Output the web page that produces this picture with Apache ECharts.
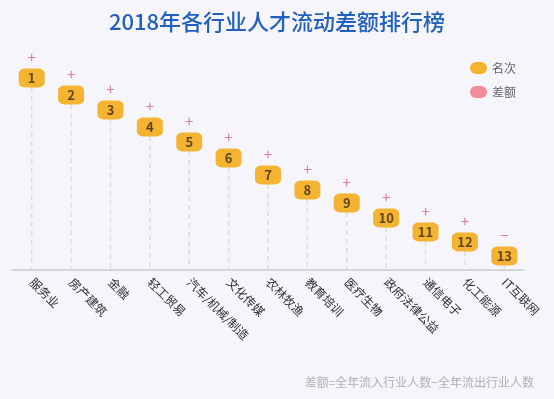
<!DOCTYPE html>
<html>
<head>
<meta charset="utf-8">
<script src="https://cdn.jsdelivr.net/npm/echarts@6/dist/echarts.min.js"></script>
<style>
    html, body { margin: 0; padding: 0; }
    #chart { width: 554px; height: 399px; }
</style>
</head>
<body>
<div id="chart"></div>
<script type="text/javascript">
    // 行业分类
    let industries = ['服务业', '房产建筑', '金融', '轻工贸易', '汽车/机械/制造', '文化传媒', '农林牧渔',
        '教育培训', '医疗生物', '政府法律公益', '通信电子', '化工能源', 'IT互联网'];
    // 名次
    let ranks = [1, 2, 3, 4, 5, 6, 7, 8, 9, 10, 11, 12, 13];
    // 差额相对高度（图中估读）
    let diffLevel = [192, 175, 160, 143, 128, 112, 95, 80, 67, 52, 38, 28, 14];
    // 差额正负
    let signs = ['+', '+', '+', '+', '+', '+', '+', '+', '+', '+', '+', '+', '−'];

    let font = "'Noto Sans CJK SC', 'Noto Sans', sans-serif";

    function initChart() {
        let myChart = echarts.init(document.getElementById('chart'));
        let rankData = industries.map(function (name, i) {
            return {value: diffLevel[i], rank: ranks[i]};
        });
        let signData = industries.map(function (name, i) {
            return {value: diffLevel[i], sign: signs[i]};
        });
        let option = {
            backgroundColor: '#f5f5fb',
            textStyle: {fontFamily: font},
            title: {
                text: '2018年各行业人才流动差额排行榜',
                left: 'center',
                top: 6,
                textStyle: {color: '#2160c0', fontSize: 22, fontWeight: 500, fontFamily: font}
            },
            graphic: [{
                type: 'text',
                right: 20,
                top: 376,
                style: {
                    text: '差额=全年流入行业人数−全年流出行业人数',
                    fill: '#b0b0ba',
                    fontSize: 12,
                    fontFamily: font
                }
            }],
            legend: {
                orient: 'vertical',
                left: 465,
                top: 57,
                itemWidth: 17,
                itemHeight: 13,
                itemGap: 12,
                icon: 'path://M6,0 H11 A6,6 0 0 1 11,12 H6 A6,6 0 0 1 6,0 Z',
                textStyle: {color: '#666', fontSize: 12, fontFamily: font},
                data: ['名次', '差额']
            },
            grid: {
                left: 12,
                right: 30,
                top: 70,
                bottom: 129
            },
            xAxis: {
                type: 'category',
                data: industries,
                boundaryGap: true,
                axisLine: {lineStyle: {color: '#c9c9d3', width: 1.5}},
                axisTick: {show: false},
                axisLabel: {
                    interval: 0,
                    rotate: -45,
                    margin: 10,
                    color: '#333',
                    fontSize: 12,
                    fontFamily: font
                }
            },
            yAxis: {
                type: 'value',
                min: 0,
                max: 200,
                show: false
            },
            series: [
                {
                    name: 'guide',
                    type: 'custom',
                    silent: true,
                    z: 1,
                    data: diffLevel.map(function (v, i) { return [i, v]; }),
                    renderItem: function (params, api) {
                        let top = api.coord([api.value(0), api.value(1)]);
                        let bottom = api.coord([api.value(0), 0]);
                        return {
                            type: 'line',
                            shape: {x1: top[0], y1: top[1], x2: bottom[0], y2: bottom[1]},
                            style: {stroke: '#dcdce4', lineWidth: 1.5, lineDash: [5, 4]}
                        };
                    }
                },
                {
                    name: '名次',
                    type: 'scatter',
                    z: 3,
                    symbol: 'roundRect',
                    symbolSize: [26, 19],
                    itemStyle: {color: '#f5a200'},
                    label: {
                        show: true,
                        position: 'inside',
                        color: '#3b2a12',
                        fontSize: 13,
                        fontWeight: 'bold',
                        fontFamily: font,
                        formatter: function (p) { return p.data.rank; }
                    },
                    data: rankData
                },
                {
                    name: '差额',
                    type: 'scatter',
                    z: 3,
                    symbolSize: 0,
                    itemStyle: {color: '#f2707f'},
                    label: {
                        show: true,
                        position: 'inside',
                        offset: [0, -21],
                        color: '#d8607e',
                        fontSize: 15,
                        fontFamily: font,
                        formatter: function (p) { return p.data.sign; }
                    },
                    data: signData
                }
            ]
        };
        myChart.setOption(option);
    }

    initChart();
</script>
</body>
</html>
